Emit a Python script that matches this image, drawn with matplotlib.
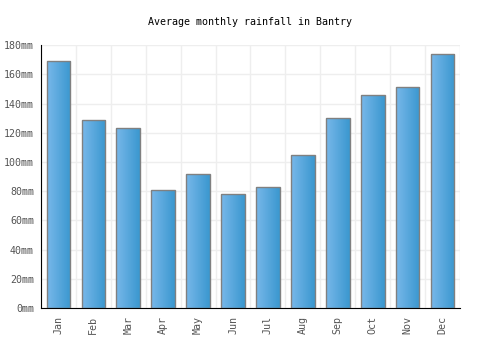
import matplotlib
matplotlib.use("Agg")
import matplotlib.pyplot as plt
import numpy as np
from matplotlib.colors import LinearSegmentedColormap
from matplotlib.ticker import MultipleLocator, FuncFormatter

months = ["Jan", "Feb", "Mar", "Apr", "May", "Jun", "Jul", "Aug", "Sep", "Oct", "Nov", "Dec"]
rainfall = [169, 129, 123, 81, 92, 78, 83, 105, 130, 146, 151, 174]

plt.rcParams['font.family'] = ['DejaVu Sans Mono']

fig = plt.figure(figsize=(5, 3.5), dpi=100)
ax = fig.add_axes([0.082, 0.12, 0.838, 0.751])

x = np.arange(len(months))
bars = ax.bar(x, rainfall, width=0.68, color='none', edgecolor='#808080', linewidth=1.0, zorder=3)

cmap = LinearSegmentedColormap.from_list('g', ['#78b8ea', '#3a97cf'])
grad = np.linspace(0, 1, 256).reshape(1, -1)
for b in bars:
    x0, y0 = b.get_x(), b.get_y()
    w, h = b.get_width(), b.get_height()
    im = ax.imshow(grad, cmap=cmap, extent=[x0, x0 + w, y0, y0 + h], aspect='auto', zorder=2)
    im.set_clip_path(b)

ax.set_xlim(-0.5, len(months) - 0.5)
ax.set_ylim(0, 180)
ax.yaxis.set_major_locator(MultipleLocator(20))
ax.yaxis.set_major_formatter(FuncFormatter(lambda v, p: f"{int(v)}mm"))
ax.set_xticks(x)
ax.set_xticklabels(months, rotation=90)
ax.set_xticks(np.arange(-0.5, len(months), 1), minor=True)
ax.grid(False)
ax.grid(True, which='major', axis='y', color='#eeeeee', linewidth=1, zorder=0)
ax.grid(True, which='minor', axis='x', color='#eeeeee', linewidth=1, zorder=0)
ax.tick_params(axis='both', which='both', length=0, labelsize=7.2, labelcolor='#555555')
ax.tick_params(axis='y', pad=5)
ax.tick_params(axis='x', pad=6)
for s in ['top', 'right']:
    ax.spines[s].set_visible(False)
ax.spines['left'].set_color('black')
ax.spines['bottom'].set_color('black')
ax.set_axisbelow(True)

fig.text(0.5, 0.937, "Average monthly rainfall in Bantry", ha='center', va='center', fontsize=7.2, color='black')

fig.savefig("out.png", dpi=100)
